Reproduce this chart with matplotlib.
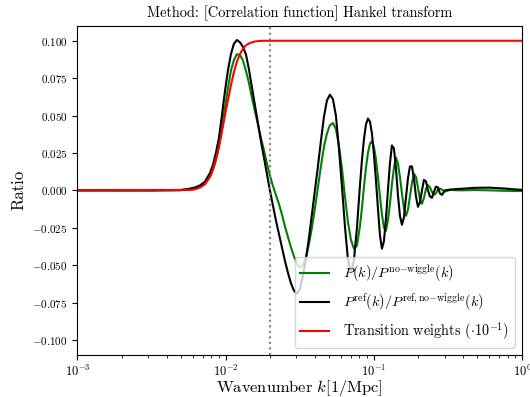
import numpy as np
import matplotlib
matplotlib.use("Agg")
import matplotlib.pyplot as plt

plt.rcParams["font.family"] = "serif"
plt.rcParams["font.serif"] = ["cmr10"]
plt.rcParams["mathtext.fontset"] = "cm"
plt.rcParams["axes.formatter.use_mathtext"] = True

# wavenumber grid [1/Mpc]
k = [0.001, 0.003085, 0.004917, 0.005567, 0.006206, 0.006709, 0.007249, 0.007836,
     0.008209, 0.008602, 0.009012, 0.009441, 0.009892, 0.010363, 0.010859, 0.011376,
     0.011918, 0.012489, 0.013083, 0.013709, 0.014362, 0.015049, 0.015765, 0.016520,
     0.017306, 0.018131, 0.018998, 0.019902, 0.020855, 0.021847, 0.022887, 0.023981,
     0.025124, 0.026326, 0.027577, 0.028896, 0.030272, 0.031718, 0.033234, 0.034818,
     0.036484, 0.038219, 0.040048, 0.041957, 0.043954, 0.046054, 0.048246, 0.050553,
     0.052966, 0.055492, 0.058134, 0.060912, 0.063826, 0.066859, 0.070052, 0.073387,
     0.076913, 0.080574, 0.083117, 0.085743, 0.088450, 0.091243, 0.094124, 0.097097,
     0.10016, 0.10332, 0.10659, 0.10996, 0.11343, 0.11701, 0.12067, 0.12448,
     0.12842, 0.13247, 0.13666, 0.14097, 0.14543, 0.15002, 0.15476, 0.15965,
     0.16469, 0.16990, 0.17526, 0.18080, 0.18651, 0.19240, 0.19848, 0.20475,
     0.21122, 0.21789, 0.22477, 0.23174, 0.23906, 0.24660, 0.25439, 0.26242,
     0.27071, 0.27926, 0.28808, 0.30183, 0.32623, 0.38107, 0.48117, 0.60745,
     0.76663, 1.0]

# P(k)/P^no-wiggle(k)  (green)
ratio = [0.0, 0.0, 0.0001, 0.0006, 0.0014, 0.0025, 0.0045, 0.009,
         0.0135, 0.020, 0.029, 0.041, 0.055, 0.068, 0.080, 0.087,
         0.091, 0.0905, 0.087, 0.080, 0.072, 0.062, 0.053, 0.044,
         0.035, 0.027, 0.018, 0.010, 0.003, -0.003, -0.009, -0.016,
         -0.024, -0.031, -0.038, -0.044, -0.049, -0.0515, -0.050, -0.045,
         -0.036, -0.025, -0.012, 0.002, 0.016, 0.029, 0.038, 0.0435,
         0.045, 0.041, 0.030, 0.015, -0.004, -0.021, -0.033, -0.039,
         -0.037, -0.024, -0.012, 0.002, 0.015, 0.025, 0.031, 0.033,
         0.029, 0.021, 0.009, -0.004, -0.016, -0.025, -0.027, -0.020,
         -0.009, 0.004, 0.015, 0.022, 0.018, 0.009, -0.002, -0.012,
         -0.017, -0.013, -0.004, 0.005, 0.011, 0.009, 0.002, -0.006,
         -0.009, -0.005, 0.001, 0.0035, 0.002, -0.001, -0.003, -0.002,
         0.0005, 0.0012, 0.0005, -0.0008, 0.0003, 0.0, 0.0002, 0.0,
         -0.0003, -0.0005]

# P^ref(k)/P^ref,no-wiggle(k)  (black)
ratio_ref = [0.0, 0.0, 0.0002, 0.0009, 0.0019, 0.0033, 0.0058, 0.0115,
             0.017, 0.025, 0.035, 0.050, 0.066, 0.080, 0.091, 0.098,
             0.1005, 0.099, 0.096, 0.091, 0.081, 0.069, 0.057, 0.045,
             0.033, 0.022, 0.011, 0.000, -0.010, -0.020, -0.029, -0.038,
             -0.047, -0.055, -0.062, -0.067, -0.069, -0.066, -0.057, -0.046,
             -0.032, -0.016, 0.0, 0.016, 0.033, 0.049, 0.060, 0.064,
             0.061, 0.050, 0.028, 0.003, -0.024, -0.046, -0.055, -0.047,
             -0.025, 0.003, 0.020, 0.034, 0.044, 0.048, 0.046, 0.038,
             0.024, 0.007, -0.012, -0.030, -0.039, -0.034, -0.019, 0.000,
             0.018, 0.030, 0.028, 0.015, -0.003, -0.017, -0.023, -0.018,
             -0.005, 0.008, 0.016, 0.016, 0.008, -0.004, -0.011, -0.008,
             0.000, 0.007, 0.006, 0.000, -0.004, -0.005, -0.001, 0.0025,
             0.002, -0.002, -0.003, 0.000, 0.0005, 0.001, 0.0017, 0.0018,
             0.0012, 0.0003]

# transition weights (x 1e-1)  (red)
k_w = [0.001, 0.005742, 0.006206, 0.006709, 0.007249, 0.007836, 0.008209, 0.008602,
       0.009012, 0.009441, 0.009892, 0.010363, 0.010859, 0.011376, 0.011918, 0.012489,
       0.013083, 0.013709, 0.014588, 0.015765, 0.017037, 0.018998, 1.0]
weights = [0.0, 0.0002, 0.0007, 0.0018, 0.004, 0.009, 0.014, 0.021,
           0.029, 0.039, 0.050, 0.060, 0.070, 0.079, 0.086, 0.091,
           0.0945, 0.097, 0.0985, 0.0995, 0.0999, 0.1, 0.1]

k_split = 0.02

fig = plt.figure(figsize=(5.30, 3.97), dpi=100)
ax = fig.add_axes([0.146, 0.106, 0.839, 0.829])

ax.plot(k, ratio, color="green", lw=1.5, label=r"$P(k)/P^{\mathrm{no{-}wiggle}}(k)$")
ax.plot(k, ratio_ref, color="black", lw=1.5,
        label=r"$P^{\mathrm{ref}}(k)/P^{\mathrm{ref,no{-}wiggle}}(k)$")
ax.plot(k_w, weights, color="red", lw=1.5, label=r"Transition weights $(\cdot 10^{-1})$")
ax.axvline(k_split, color="gray", ls=":", lw=1.5)

ax.set_xscale("log")
ax.set_xlim(1e-3, 1.0)
ax.set_ylim(-0.11, 0.11)
ax.set_yticks([-0.1, -0.075, -0.05, -0.025, 0.0, 0.025, 0.05, 0.075, 0.1])
ax.tick_params(axis="y", labelsize=8)
ax.tick_params(axis="x", labelsize=9, pad=3)

ax.set_title("Method: [Correlation function] Hankel transform", fontsize=10.3)
ax.set_xlabel(r"Wavenumber $k [1/\mathrm{Mpc}]$", fontsize=11.8)
ax.xaxis.set_label_coords(0.5, -0.07)
ax.set_ylabel("Ratio", fontsize=12)
ax.legend(loc="lower right", fontsize=10.3, handletextpad=1.0)

fig.savefig("out.png", dpi=100)
